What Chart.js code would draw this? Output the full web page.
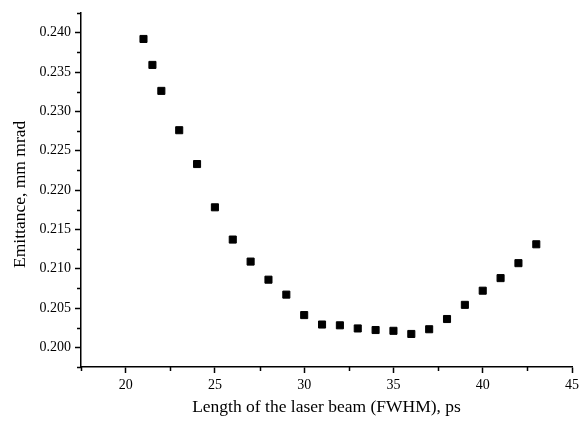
<!DOCTYPE html>
<html>
<head>
<meta charset="utf-8">
<script src="https://cdn.jsdelivr.net/npm/chart.js@4"></script>
<style>
  html, body { margin: 0; padding: 0; background: #fff; }
  #wrap { width: 583px; height: 421px; }
</style>
</head>
<body>
<div id="wrap"><canvas id="chart"></canvas></div>
<script>
// Data
const beamLength = [21, 21.5, 22, 23, 24, 25, 26, 27, 28, 29, 30, 31, 32, 33, 34, 35, 36, 37, 38, 39, 40, 41, 42, 43];
const emittance = [0.2392, 0.2359, 0.2326, 0.2276, 0.2233, 0.2178, 0.2137, 0.2109, 0.2086, 0.2067, 0.2041, 0.2029,
                   0.2028, 0.2024, 0.2022, 0.2021, 0.2017, 0.2023, 0.2036, 0.2054, 0.2072, 0.2088, 0.2107, 0.2131];
const xTitle = 'Length of the laser beam (FWHM), ps';
const yTitle = 'Emittance, mm mrad\u00a0\u00a0';

const serif = 'Liberation Serif';

function isMajor(v, step) {
  const r = v / step;
  return Math.abs(r - Math.round(r)) < 1e-6;
}

// draws the short minor ticks between labelled ones
const minorTicks = {
  id: 'minorTicks',
  afterDraw(chart) {
    const ctx = chart.ctx;
    ctx.save();
    ctx.strokeStyle = '#000';
    ctx.lineWidth = 1.5;
    const xs = chart.scales.x, ys = chart.scales.y;
    xs.ticks.forEach(t => {
      if (isMajor(t.value, 5)) return;
      const px = Math.round(xs.getPixelForValue(t.value)) + 0.5;
      ctx.beginPath();
      ctx.moveTo(px, xs.top);
      ctx.lineTo(px, xs.top + 4);
      ctx.stroke();
    });
    ys.ticks.forEach(t => {
      if (isMajor(t.value, 0.005)) return;
      const py = Math.round(ys.getPixelForValue(t.value)) + 0.5;
      ctx.beginPath();
      ctx.moveTo(ys.right, py);
      ctx.lineTo(ys.right - 4, py);
      ctx.stroke();
    });
    ctx.restore();
  }
};

const points = beamLength.map((x, i) => ({ x: x, y: emittance[i] }));

new Chart(document.getElementById('chart').getContext('2d'), {
  type: 'scatter',
  data: {
    datasets: [{
      data: points,
      pointStyle: 'rect',
      pointRadius: 5,
      pointHoverRadius: 5,
      backgroundColor: '#000',
      borderColor: '#000',
      borderWidth: 1
    }]
  },
  options: {
    responsive: true,
    maintainAspectRatio: false,
    animation: false,
    layout: { padding: { left: 0, right: 11, top: 13, bottom: 0 } },
    plugins: { legend: { display: false }, tooltip: { enabled: false } },
    scales: {
      x: {
        type: 'linear',
        min: 17.5,
        max: 45,
        afterFit: s => { s.height = 54; },
        border: { display: true, color: '#000', width: 1.5 },
        grid: {
          drawOnChartArea: false,
          tickLength: 6,
          tickWidth: 1.5,
          tickColor: ctx => isMajor(ctx.tick.value, 5) ? '#000' : 'rgba(0,0,0,0)'
        },
        ticks: {
          stepSize: 2.5,
          autoSkip: false,
          maxRotation: 0,
          padding: 4,
          color: '#000',
          font: { family: serif, size: 14 },
          callback: v => isMajor(v, 5) ? String(Math.round(v)) : ''
        },
        title: {
          display: true,
          text: xTitle,
          color: '#000',
          font: { family: serif, size: 17.5 },
          padding: { top: 0, bottom: 3 }
        }
      },
      y: {
        type: 'linear',
        min: 0.1975,
        max: 0.2425,
        afterFit: s => { s.width = 81; },
        border: { display: true, color: '#000', width: 1.5 },
        grid: {
          drawOnChartArea: false,
          tickLength: 6,
          tickWidth: 1.5,
          tickColor: ctx => isMajor(ctx.tick.value, 0.005) ? '#000' : 'rgba(0,0,0,0)'
        },
        ticks: {
          stepSize: 0.0025,
          autoSkip: false,
          padding: 4,
          color: '#000',
          font: { family: serif, size: 14 },
          callback: v => isMajor(v, 0.005) ? v.toFixed(3) : ''
        },
        title: {
          display: true,
          text: yTitle,
          color: '#000',
          font: { family: serif, size: 17.5 },
          padding: { top: 10, bottom: 0 }
        }
      }
    }
  },
  plugins: [minorTicks]
});
</script>
</body>
</html>
